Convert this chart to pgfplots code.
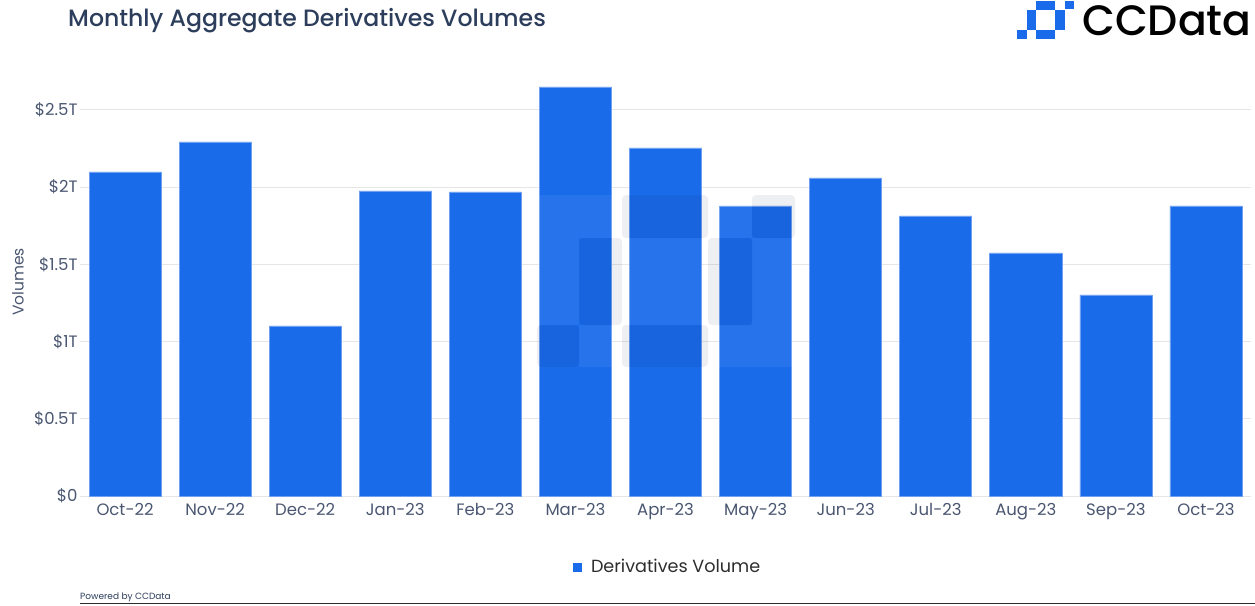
\documentclass[border=0pt]{standalone}
\usepackage{pgfplots}
\pgfplotsset{compat=1.18}
\usepackage{fontspec}
\setmainfont{Poppins}
\newfontfamily\medfont{Poppins Medium}
\definecolor{barblue}{HTML}{1A6BEA}
\definecolor{baredge}{HTML}{6FA0F2}
\definecolor{titlecol}{HTML}{2C3E5C}
\definecolor{tickcol}{HTML}{4A5670}
\definecolor{gridcol}{HTML}{E6E6E6}
\definecolor{legcol}{HTML}{2D2D2D}
\definecolor{wmgray}{HTML}{EEEFF2}
\begin{document}
\begin{tikzpicture}
\path[use as bounding box] (0,0) rectangle (1255bp,-606bp);
% title
\node[anchor=west, text=titlecol, inner sep=0pt] at (68bp,-21bp) {\medfont\fontsize{23.6bp}{27bp}\selectfont Monthly Aggregate Derivatives Volumes};
% logo
\fill[barblue] (1065bp,-1bp) rectangle (1074bp,-9bp);
\fill[barblue] (1036bp,-1bp) rectangle (1055bp,-10bp);
\fill[barblue] (1027bp,-10bp) rectangle (1036bp,-30bp);
\fill[barblue] (1055bp,-10bp) rectangle (1065bp,-30bp);
\fill[barblue] (1036bp,-30bp) rectangle (1055bp,-39bp);
\fill[barblue] (1017bp,-30bp) rectangle (1027bp,-39bp);
\node[anchor=west, text=black, inner sep=0pt] at (1082bp,-21bp) {\medfont\fontsize{42.5bp}{46bp}\selectfont CCData};
% y label
\node[rotate=90, text=tickcol, inner sep=0pt] at (18bp,-282bp) {\fontsize{15.5bp}{17bp}\selectfont Volumes};
\begin{axis}[
  at={(80bp,-496bp)}, anchor=south west,
  scale only axis, width=1171bp, height=417bp,
  xmin=-0.5, xmax=12.5, ymin=0, ymax=2.7,
  axis line style={draw=none}, tick style={draw=none},
  ymajorgrids, grid style={draw=gridcol, line width=0.9bp},
  ytick={0,0.5,1,1.5,2,2.5},
  yticklabels={\$0,\$0.5T,\$1T,\$1.5T,\$2T,\$2.5T},
  xtick={0,...,12},
  xticklabels={Oct-22,Nov-22,Dec-22,Jan-23,Feb-23,Mar-23,Apr-23,May-23,Jun-23,Jul-23,Aug-23,Sep-23,Oct-23},
  ticklabel style={text=tickcol, font=\fontsize{16.5bp}{18bp}\selectfont},
  yticklabel style={xshift=1bp},
  ybar, bar width=0.8,
  legend style={at={(axis description cs:0.502,-0.170)}, anchor=center, draw=none, fill=none,
    font=\fontsize{17.6bp}{19bp}\selectfont, text=legcol},
  legend image code/.code={\fill[barblue] (0bp,-4bp) rectangle (8bp,4bp);},
]
\addplot[fill=barblue, draw=baredge, line width=0.6bp] coordinates {
(0,2.098) (1,2.293) (2,1.101) (3,1.975) (4,1.969) (5,2.649) (6,2.254)
(7,1.878) (8,2.060) (9,1.813) (10,1.574) (11,1.302) (12,1.878)};
\addlegendentry{\hspace{7bp}Derivatives Volume}
\end{axis}
% watermark
\fill[white, opacity=0.06, even odd rule]
  (537bp,-195bp) rectangle (795bp,-367bp)
  (622bp,-195bp) rectangle (708bp,-238bp)
  (752bp,-195bp) rectangle (795bp,-238bp)
  (579bp,-238bp) rectangle (622bp,-325bp)
  (708bp,-238bp) rectangle (752bp,-325bp)
  (622bp,-325bp) rectangle (708bp,-367bp)
  (537bp,-325bp) rectangle (579bp,-367bp);
\begin{scope}[blend mode=multiply]
\fill[wmgray, rounded corners=4bp] (622bp,-195bp) rectangle (708bp,-238bp);
\fill[wmgray, rounded corners=4bp] (752bp,-195bp) rectangle (795bp,-238bp);
\fill[wmgray, rounded corners=4bp] (579bp,-238bp) rectangle (622bp,-325bp);
\fill[wmgray, rounded corners=4bp] (708bp,-238bp) rectangle (752bp,-325bp);
\fill[wmgray, rounded corners=4bp] (622bp,-325bp) rectangle (708bp,-367bp);
\fill[wmgray, rounded corners=4bp] (537bp,-325bp) rectangle (579bp,-367bp);
\end{scope}
% footer
\node[anchor=west, text=titlecol, inner sep=0pt] at (80bp,-597bp) {\fontsize{9bp}{10bp}\selectfont Powered by CCData};
\draw[draw=legcol, line width=1.5bp] (80bp,-603.5bp) -- (1255bp,-603.5bp);
\end{tikzpicture}
\end{document}
